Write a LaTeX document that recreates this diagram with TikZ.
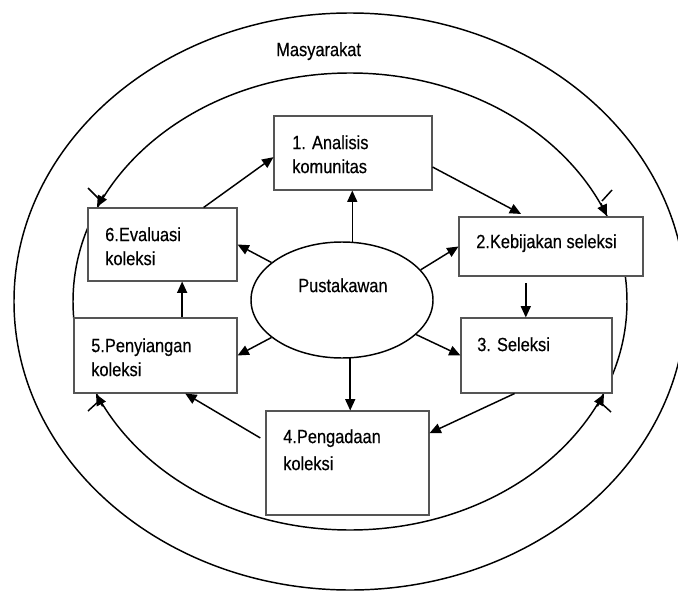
\documentclass[tikz,border=0pt]{standalone}
\usepackage{fontspec}
\setmainfont[FakeStretch=0.86, FakeBold=0.4]{Liberation Sans}
\usetikzlibrary{arrows.meta,shapes.geometric}
\definecolor{boxline}{HTML}{555555}

\begin{document}
\begin{tikzpicture}[x=0.75pt, y=-0.75pt,
    box/.style={draw=boxline, line width=0.8pt, fill=white, inner sep=0pt},
    lbl/.style={anchor=north west, inner sep=0pt, align=left, font=\fontsize{14.3}{18}\selectfont},
    flow/.style={line width=1.1pt, -{Triangle[length=8.5pt, width=7.5pt]}},
    ring/.style={line width=1.1pt}]
    % Page area
    \useasboundingbox (0,0) rectangle (678,592);
    \clip (0,0) rectangle (678,592);

    % Draw the two rings
    \draw[ring] (350,301.5) ellipse [x radius=252pt, y radius=216.375pt];
    \draw[ring] (350,301.5) ellipse [x radius=207.75pt, y radius=171.375pt];
    \node[lbl] (masyarakat) at (276,42) {Masyarakat};

    % Draw the boxes
    \node[box, minimum width=118.5pt, minimum height=55.5pt] (analisis) at (353,153) {};
    \node[box, minimum width=138pt, minimum height=44.25pt] (kebijakan) at (551,246.5) {};
    \node[box, minimum width=113.25pt, minimum height=56.25pt] (seleksi) at (536.5,355.5) {};
    \node[box, minimum width=122.25pt, minimum height=78pt] (pengadaan) at (347.5,463) {};
    \node[box, minimum width=122.25pt, minimum height=56.25pt] (penyiangan) at (155.5,355.5) {};
    \node[box, minimum width=111.75pt, minimum height=54.75pt] (evaluasi) at (162.5,244.5) {};
    \node[box, ellipse, draw=black, line width=1.1pt, minimum width=136.5pt, minimum height=87pt] (pust) at (342,300) {};

    % Box texts
    \node[lbl] (tanalisis) at (292,135) {1. Analisis\\komunitas};
    \node[lbl] (tkebijakan) at (476,234) {2.Kebijakan seleksi};
    \node[lbl] (tseleksi) at (477,337) {3. Seleksi};
    \node[lbl, font=\fontsize{14.3}{20.25}\selectfont] (tpengadaan) at (283,429) {4.Pengadaan\\koleksi};
    \node[lbl] (tpenyiangan) at (91,338) {5.Penyiangan\\koleksi};
    \node[lbl] (tevaluasi) at (105,227) {6.Evaluasi\\koleksi};
    \node[lbl] (tpust) at (298,278) {Pustakawan};

    % Arrows out of Pustakawan
    \draw[flow] (pust.80) -- (pust.80 |- analisis.south);
    \draw[flow] (pust.21) -- (kebijakan.west);
    \draw[flow] (pust.-25) -- (seleksi.west);
    \draw[flow] (pust.-82) -- (pust.-82 |- pengadaan.north);
    \draw[flow] (pust.208) -- (penyiangan.east);
    \draw[flow] (pust.152) -- (evaluasi.east);

    % The cycle
    \draw[flow, shorten >=4pt] (analisis.-10) -- (kebijakan.130);
    \draw[flow, shorten <=5pt] (kebijakan.-130) -- (kebijakan.-130 |- seleksi.north);
    \draw[flow] (seleksi.-120) -- (pengadaan.20);
    \draw[flow, shorten <=4.5pt] (pengadaan.165) -- (penyiangan.-52);
    \draw[flow] (penyiangan.55) -- (penyiangan.55 |- evaluasi.south);
    \draw[flow] (evaluasi.42) -- (analisis.183);

    % Marks on the inner ring
    \coordinate (e6) at (103.7,194.7); \coordinate (t6) at (97,207);
    \coordinate (e2) at (600.9,203.4); \coordinate (t2) at (607,216);
    \coordinate (e5) at (102.6,406.4); \coordinate (t5) at (96,394);
    \coordinate (e3) at (597.4,406.4); \coordinate (t3) at (604,394);
    \draw[flow] (e6) -- (t6);
    \draw[flow] (e2) -- (t2);
    \draw[flow] (e5) -- (t5);
    \draw[flow] (e3) -- (t3);
    \draw[ring] (88,188) -- (102,202);
    \draw[ring] (602,201) -- (612,190);
    \draw[ring] (88,411) -- (99,401);
    \draw[ring] (600,402) -- (611,412);
\end{tikzpicture}
\end{document}
